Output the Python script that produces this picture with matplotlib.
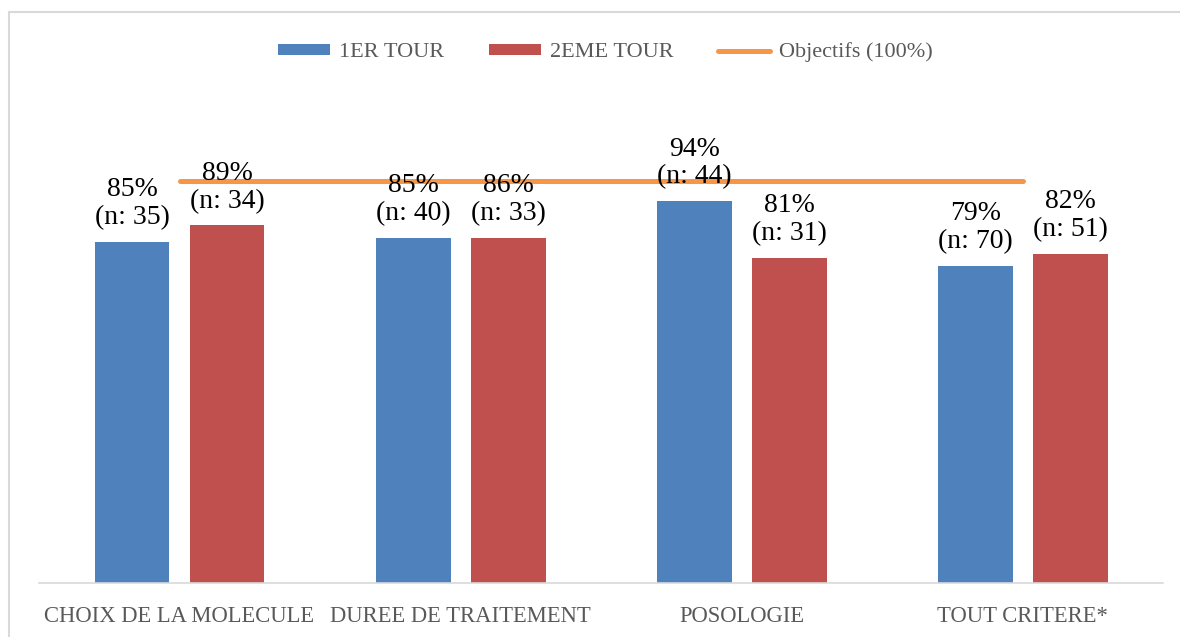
import numpy as np
import matplotlib.pyplot as plt
from matplotlib.patches import Rectangle

categories = ['CHOIX DE LA MOLECULE', 'DUREE DE TRAITEMENT', 'POSOLOGIE', 'TOUT CRITERE*']
tour1 = [85, 86, 95, 79]
tour2 = [89, 86, 81, 82]
objectif = [100, 100, 100, 100]
labels1 = ['85%\n(n: 35)', '85%\n(n: 40)', '94%\n(n: 44)', '79%\n(n: 70)']
labels2 = ['89%\n(n: 34)', '86%\n(n: 33)', '81%\n(n: 31)', '82%\n(n: 51)']

plt.rcParams['font.family'] = ['Liberation Serif', 'DejaVu Serif']

fig = plt.figure(figsize=(11.8, 6.37), dpi=100)
ax = fig.add_axes([0.033, 0.0852, 0.953, 0.7562])

# cadre gris autour du graphique
fig.patches.append(Rectangle((9 / 1180, -0.1), 1.2, (637 - 12) / 637 + 0.1,
                             transform=fig.transFigure, fill=False,
                             edgecolor='#d9d9d9', linewidth=1.5))

x = np.arange(len(categories))
w = 0.266
off = 0.169
b1 = ax.bar(x - off, tour1, w, color='#4f81bd', label='1ER TOUR')
b2 = ax.bar(x + off, tour2, w, color='#c0504d', label='2EME TOUR')
ln, = ax.plot(x, objectif, color='#f79646', linewidth=3.6, solid_capstyle='round',
              label='Objectifs (100%)')

for bars, labs in [(b1, labels1), (b2, labels2)]:
    for rect, lab in zip(bars, labs):
        ax.annotate(lab, (rect.get_x() + rect.get_width() / 2, rect.get_height()),
                    xytext=(0, 8.5), textcoords='offset points', ha='center', va='bottom',
                    fontsize=20, color='black', linespacing=1.12)

ax.set_xlim(-0.5, 3.5)
ax.set_ylim(0, 120)
ax.set_yticks([])
ax.set_xticks(x)
ax.set_xticklabels(categories, fontsize=16.3, color='#595959')
ax.tick_params(axis='x', length=0, pad=17)
for s in ['top', 'right', 'left']:
    ax.spines[s].set_visible(False)
ax.spines['bottom'].set_color('#d9d9d9')
ax.spines['bottom'].set_linewidth(1.2)

fig.legend([b1, b2, ln], ['1ER TOUR', '2EME TOUR', 'Objectifs (100%)'],
           loc='center', bbox_to_anchor=(0.513, 0.918), ncol=3, frameon=False,
           fontsize=16, labelcolor='#595959', handlelength=2.36, handleheight=0.36,
           columnspacing=2.0, handletextpad=0.4)

fig.savefig('out.png', dpi=100)
